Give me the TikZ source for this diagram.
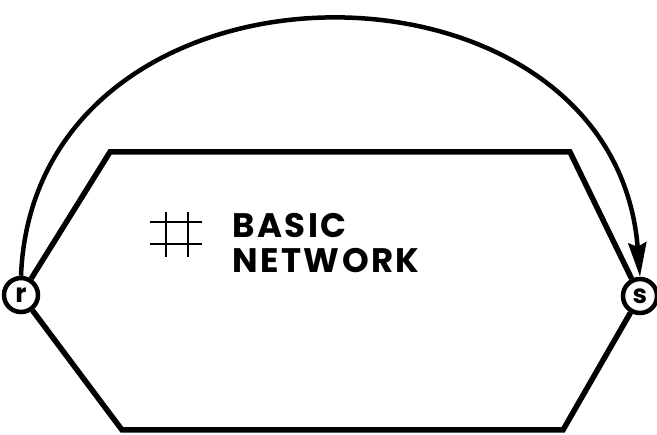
\documentclass[tikz,border=0pt]{standalone}
\usepackage{fontspec}
\setmainfont{Poppins}
\newfontfamily\lblfont[LetterSpace=7]{Poppins}
\usetikzlibrary{arrows.meta}
\begin{document}
\begin{tikzpicture}[x=1pt,y=-1pt,
  line width=5.5pt,
  term/.style={circle,draw,line width=4.5pt,minimum size=34pt,inner sep=0pt,font=\fontsize{26}{26}\selectfont\bfseries},
  lbl/.style={font=\lblfont\fontsize{34}{38}\selectfont\bfseries,align=left,anchor=north west,inner sep=0pt}]
\useasboundingbox (0,0) rectangle (657,435);
\node[term] (r) at (21,295) {r};
\node[term] (s) at (640,296) {s};
\coordinate (tl) at (110,152);
\coordinate (tr) at (570,152);
\coordinate (br) at (563,430);
\coordinate (bl) at (122,430);
\draw[line join=miter] (r) -- (tl) -- (tr) -- (s);
\draw[line join=miter] (s) -- (br) -- (bl) -- (r);
\coordinate (c1) at (35,-64);
\coordinate (c2) at (613,-64);
\draw[line width=4.5pt,-{Stealth[length=34pt,width=18pt,inset=4pt]}] (r.north) .. controls (c1) and (c2) .. (s.north);
% hash symbol
\coordinate (h1) at (150,222);
\coordinate (h2) at (202,222);
\coordinate (h3) at (150,244);
\coordinate (h4) at (202,244);
\coordinate (v1) at (166,212);
\coordinate (v2) at (166,257);
\coordinate (v3) at (188,212);
\coordinate (v4) at (188,257);
\draw[line width=2.5pt] (h1) -- (h2) (h3) -- (h4) (v1) -- (v2) (v3) -- (v4);
\node[lbl] (t) at (230,211) {BASIC\\[-3pt]NETWORK};
\end{tikzpicture}
\end{document}
